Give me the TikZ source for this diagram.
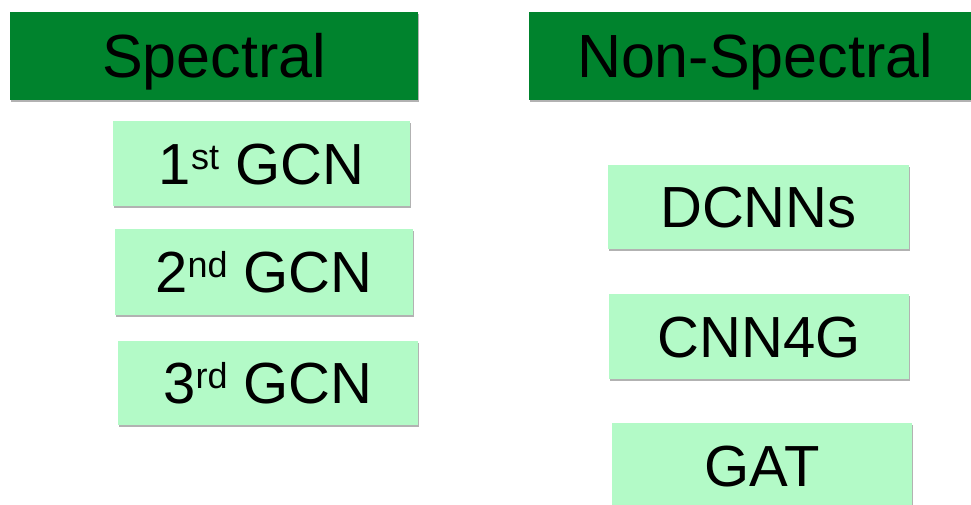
\documentclass[tikz,border=0pt]{standalone}
\usepackage{fontspec}
\setmainfont{Liberation Sans}
\usetikzlibrary{shadows}
\definecolor{headgreen}{RGB}{0,131,45}
\definecolor{modelgreen}{RGB}{179,250,199}
\newcommand{\ordsup}[1]{\raisebox{15pt}{\fontsize{36}{36}\selectfont #1}}

\begin{document}
\begin{tikzpicture}[x=1pt,y=-1pt,
    head/.style={fill=headgreen, inner sep=0pt, minimum height=88pt,
      text height=43.7pt, text depth=0pt, font=\fontsize{61}{61}\selectfont,
      drop shadow={shadow xshift=0.6pt, shadow yshift=-1.8pt, fill=black!60, opacity=0.5}},
    model/.style={fill=modelgreen, inner sep=0pt, minimum width=300pt,
      text height=41.5pt, text depth=0pt, font=\fontsize{58}{58}\selectfont,
      drop shadow={shadow xshift=0.6pt, shadow yshift=-1.8pt, fill=black!60, opacity=0.5}}]
                \clip (0,0) rectangle (971,504) ;
                \fill[white] (0,0) rectangle (971,504) ;
                % headers
                \node[head, minimum width=408pt] (spectral) at (214,56) {Spectral} ;
                \node[head, minimum width=452pt] (nonspectral) at (755,56) {Non-Spectral} ;
                % spectral models
                \node[model, minimum width=297pt, minimum height=85pt] (gcnone) at (261.5,163.5) {1\ordsup{st} GCN} ;
                \node[model, minimum width=298pt, minimum height=86pt] (gcntwo) at (264,272) {2\ordsup{nd} GCN} ;
                \node[model, minimum height=84pt] (gcnthree) at (268,383) {3\ordsup{rd} GCN} ;
                % non-spectral models
                \node[model, minimum width=301pt, minimum height=84pt] (dcnn) at (758.5,207) {DCNNs} ;
                \node[model, minimum height=85pt] (cnnfourg) at (759,336.5) {CNN4G} ;
                \node[model, minimum height=85pt] (gat) at (762,465.5) {GAT} ;
            \end{tikzpicture}
\end{document}
